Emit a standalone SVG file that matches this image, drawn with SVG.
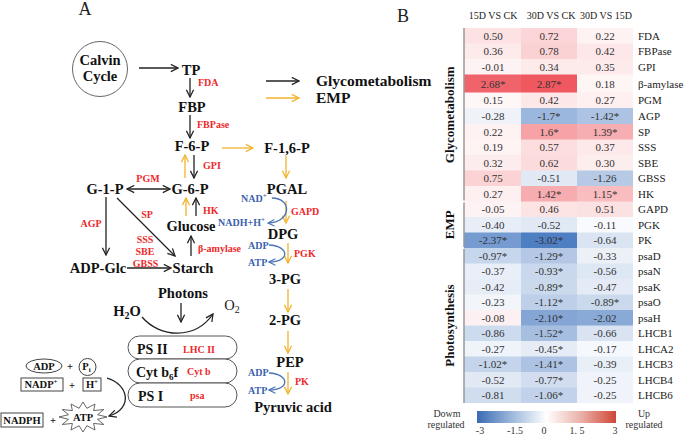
<svg xmlns="http://www.w3.org/2000/svg" width="685" height="439" viewBox="0 0 685 439">
<style>
text{font-family:"Liberation Serif","Times New Roman",serif}
.n{font-weight:bold;font-size:14.5px;text-anchor:middle;fill:#111}
.r{font-weight:bold;font-size:10px;fill:#ee2a2a}
.b{font-weight:bold;font-size:10px;fill:#3c63ad}
.k{fill:none;stroke:#222;stroke-width:1.3}
.o{fill:none;stroke:#f2b32a;stroke-width:1.3}
.bl{fill:none;stroke:#4a72b8;stroke-width:1.3}
.c{font-weight:bold;font-size:10.5px;text-anchor:middle;fill:#111}
.v{font-size:11px;text-anchor:middle;fill:#333}
.l{font-size:11px;fill:#222}
.h{font-size:10px;text-anchor:middle;fill:#222}
.g{font-weight:bold;font-size:13px;text-anchor:middle;fill:#111}
.t{font-size:10px;text-anchor:middle;fill:#333}
</style>
<defs>
<marker id="ak" viewBox="0 0 10 10" refX="9" refY="5" markerWidth="9" markerHeight="9" orient="auto-start-reverse" markerUnits="userSpaceOnUse"><path d="M1,1 L9,5 L1,9" fill="none" stroke="#222" stroke-width="1.4"/></marker>
<marker id="ao" viewBox="0 0 10 10" refX="9" refY="5" markerWidth="9" markerHeight="9" orient="auto" markerUnits="userSpaceOnUse"><path d="M1,1 L9,5 L1,9" fill="none" stroke="#f2b32a" stroke-width="1.4"/></marker>
<marker id="ab" viewBox="0 0 10 10" refX="9" refY="5" markerWidth="8" markerHeight="8" orient="auto" markerUnits="userSpaceOnUse"><path d="M1,1 L9,5 L1,9" fill="none" stroke="#4a72b8" stroke-width="1.4"/></marker>
<linearGradient id="cb" x1="0" x2="1" y1="0" y2="0">
<stop offset="0" stop-color="#3a6bb3"/><stop offset="0.25" stop-color="#9cb8dc"/><stop offset="0.5" stop-color="#ffffff"/><stop offset="0.75" stop-color="#eab0a8"/><stop offset="1" stop-color="#cf4636"/>
</linearGradient>
</defs>
<rect width="685" height="439" fill="#fff"/>

<text x="85" y="15" font-size="18" text-anchor="middle" fill="#222">A</text>
<text x="403" y="22" font-size="18" text-anchor="middle" fill="#222">B</text>

<!-- connectors -->
<g id="connectors">
<path class="k" d="M139 68 L178 68" marker-end="url(#ak)"/>
<path class="k" d="M190 78 L190 97" marker-end="url(#ak)"/>
<path class="k" d="M190 115 L190 138" marker-end="url(#ak)"/>
<path class="k" d="M194 155 L194 178" marker-end="url(#ak)"/>
<path class="o" d="M185 178 L185 155" marker-end="url(#ao)"/>
<path class="k" d="M127 189 L170 189" marker-start="url(#ak)" marker-end="url(#ak)"/>
<path class="o" d="M186 216 L186 198" marker-end="url(#ao)"/>
<path class="k" d="M196 216 L196 198" marker-end="url(#ak)"/>
<path class="k" d="M191 256 L191 236" marker-end="url(#ak)"/>
<path class="k" d="M106 197 L106 255" marker-end="url(#ak)"/>
<path class="k" d="M117 198 L175 256" marker-end="url(#ak)"/>
<path class="k" d="M127 268 L171 268" marker-end="url(#ak)"/>
<path class="k" d="M181 303 L181 322" marker-end="url(#ak)"/>
<path class="k" d="M142 317 C160 338 195 340 213 314" marker-end="url(#ak)"/>
<path class="k" d="M266 81 L299 81" marker-end="url(#ak)"/>
<path class="o" d="M266 98 L299 98" marker-end="url(#ao)"/>
<path class="o" d="M222 148 L253 148" marker-end="url(#ao)"/>
<path class="o" d="M286 156 L286 178" marker-end="url(#ao)"/>
<path class="o" d="M286 201 L286 223" marker-end="url(#ao)"/>
<path class="o" d="M288 243 L288 263" marker-end="url(#ao)"/>
<path class="o" d="M288 289 L288 312" marker-end="url(#ao)"/>
<path class="o" d="M288 331 L288 353" marker-end="url(#ao)"/>
<path class="o" d="M288 372 L288 394" marker-end="url(#ao)"/>
<path class="bl" d="M272 198 C292 198 292 222 268 223" marker-end="url(#ab)"/>
<path class="bl" d="M269 245 C290 246 290 262 269 262" marker-end="url(#ab)"/>
<path class="bl" d="M269 373 C290 374 290 390 269 390" marker-end="url(#ab)"/>
<path class="k" d="M107 378 C128 384 134 408 109 416" marker-end="url(#ak)"/>
</g>

<!-- nodes -->
<g id="calvin"><circle cx="100" cy="69" r="27.5" fill="#fff" stroke="#666" stroke-width="1"/><text class="n" x="100" y="65">Calvin</text><text class="n" x="100" y="81">Cycle</text></g>
<g id="tp"><text class="n" x="191" y="75">TP</text><text class="r" x="198" y="86">FDA</text></g>
<g id="fbp"><text class="n" x="192" y="112">FBP</text><text class="r" x="197" y="128">FBPase</text></g>
<g id="f6p"><text class="n" x="192" y="151">F-6-P</text><text class="r" x="203" y="169">GPI</text></g>
<g id="f16p"><text class="n" x="287" y="153">F-1,6-P</text></g>
<g id="legend"><text x="316" y="86" font-weight="bold" font-size="15.5" fill="#111">Glycometabolism</text><text x="316" y="103" font-weight="bold" font-size="15.5" fill="#111">EMP</text></g>
<g id="g1p"><text class="n" x="105" y="194">G-1-P</text><text class="r" x="148" y="182" text-anchor="middle">PGM</text><text class="r" x="91" y="227" text-anchor="middle">AGP</text><text class="r" x="147" y="218" text-anchor="middle">SP</text></g>
<g id="g6p"><text class="n" x="190" y="194">G-6-P</text><text class="r" x="203" y="214">HK</text></g>
<g id="glucose"><text class="n" x="191" y="231">Glucose</text><text class="r" x="198" y="252" font-size="10.5">β-amylase</text></g>
<g id="adpglc"><text class="n" x="98" y="273">ADP-Glc</text><text class="r" x="145" y="243" text-anchor="middle">SSS</text><text class="r" x="145" y="255" text-anchor="middle">SBE</text><text class="r" x="145.5" y="267" text-anchor="middle">GBSS</text></g>
<g id="starch"><text class="n" x="193" y="273">Starch</text></g>
<g id="pgal"><text class="n" x="287" y="194">PGAL</text><text class="b" x="241" y="202">NAD<tspan font-size="7" dy="-4">+</tspan></text><text class="b" x="218" y="226">NADH+H<tspan font-size="7" dy="-4">+</tspan></text><text class="r" x="291" y="215">GAPD</text></g>
<g id="dpg"><text class="n" x="283" y="239">DPG</text><text class="b" x="248" y="249">ADP</text><text class="b" x="248" y="266">ATP</text><text class="r" x="294" y="257">PGK</text></g>
<g id="pg3"><text class="n" x="285" y="284">3-PG</text></g>
<g id="pg2"><text class="n" x="285" y="325">2-PG</text></g>
<g id="pep"><text class="n" x="290" y="367">PEP</text><text class="b" x="248" y="376">ADP</text><text class="b" x="248" y="394">ATP</text><text class="r" x="295" y="385">PK</text></g>
<g id="pyruvic"><text class="n" x="293" y="412">Pyruvic acid</text></g>
<g id="photons"><text class="n" x="183" y="298">Photons</text><text class="n" x="127" y="316">H<tspan font-size="10" dy="3">2</tspan><tspan dy="-3">O</tspan></text><text x="232" y="310" font-size="14.5" text-anchor="middle" fill="#222">O<tspan font-size="10" dy="3">2</tspan></text></g>
<g id="ps2"><rect x="128" y="336" width="109" height="23" rx="11.5" fill="#fff" stroke="#555"/><text x="137" y="354" font-weight="bold" font-size="14" fill="#111">PS II</text><text class="r" x="183" y="353">LHC II</text></g>
<g id="cytb6f"><rect x="128" y="359" width="109" height="24" rx="12" fill="#fff" stroke="#555"/><text x="136" y="377" font-weight="bold" font-size="14" fill="#111">Cyt b<tspan font-size="9" dy="3">6</tspan><tspan dy="-3">f</tspan></text><text class="r" x="187" y="375">Cyt b</text></g>
<g id="ps1"><rect x="128" y="383" width="109" height="24" rx="12" fill="#fff" stroke="#555"/><text x="138" y="401" font-weight="bold" font-size="14" fill="#111">PS I</text><text class="r" x="190" y="399">psa</text></g>
<g id="cofactors">
<ellipse cx="44" cy="366" rx="18" ry="7" fill="#fff" stroke="#444"/><text class="c" x="44" y="370">ADP</text>
<text class="c" x="70" y="370" font-size="12">+</text>
<circle cx="87.5" cy="367" r="8.5" fill="#fff" stroke="#444"/><text class="c" x="86.5" y="370">P<tspan font-size="7" dy="2">i</tspan></text>
<rect x="21" y="378" width="42" height="13" fill="#fff" stroke="#444"/><text class="c" x="41" y="388">NADP<tspan font-size="7" dy="-4">+</tspan></text>
<text class="c" x="72" y="389" font-size="12">+</text>
<rect x="83" y="378" width="18" height="13" fill="#fff" stroke="#444"/><text class="c" x="92" y="388">H<tspan font-size="7" dy="-4">+</tspan></text>
<rect x="1" y="413" width="42" height="14" fill="#fff" stroke="#444"/><text class="c" x="22" y="424">NADPH</text>
<text class="c" x="53" y="424" font-size="12">+</text>
<polygon points="107,417 97.5,419.3 103.8,424.5 93.6,423.4 95,430 86.9,425.7 83,432 79.1,425.7 71,430 72.4,423.4 62.2,424.5 68.5,419.3 59,417 68.5,414.7 62.2,409.5 72.4,410.6 71,404 79.1,408.3 83,402 86.9,408.3 95,404 93.6,410.6 103.8,409.5 97.5,414.7" fill="#fff" stroke="#555" stroke-width="0.9"/>
<text class="c" x="83" y="421">ATP</text>
</g>

<!-- heatmap -->
<g id="heatmap">
<text class="h" x="493" y="19">15D VS CK</text>
<text class="h" x="551" y="19">30D VS CK</text>
<text class="h" x="606" y="19">30D VS 15D</text>
<g id="r-FDA"><rect x="464" y="28" width="57" height="16" fill="#fce2e3"/><rect x="521" y="28" width="56" height="16" fill="#fbd5d7"/><rect x="577" y="28" width="56" height="16" fill="#fef2f3"/><text class="v" x="493" y="39.8">0.50</text><text class="v" x="549" y="39.8">0.72</text><text class="v" x="605" y="39.8">0.22</text><text class="l" x="638" y="39.8">FDA</text></g>
<g id="r-FBPase"><rect x="464" y="43.5" width="57" height="16" fill="#fdeaeb"/><rect x="521" y="43.5" width="56" height="16" fill="#fbd2d4"/><rect x="577" y="43.5" width="56" height="16" fill="#fde7e8"/><text class="v" x="493" y="55.3">0.36</text><text class="v" x="549" y="55.3">0.78</text><text class="v" x="605" y="55.3">0.42</text><text class="l" x="638" y="55.3">FBPase</text></g>
<g id="r-GPI"><rect x="464" y="59" width="57" height="16" fill="#fdf2f4"/><rect x="521" y="59" width="56" height="16" fill="#fdebec"/><rect x="577" y="59" width="56" height="16" fill="#fdebec"/><text class="v" x="493" y="70.8">-0.01</text><text class="v" x="549" y="70.8">0.34</text><text class="v" x="605" y="70.8">0.35</text><text class="l" x="638" y="70.8">GPI</text></g>
<g id="r-bamy"><rect x="464" y="74.5" width="57" height="18.5" fill="#f0636a"/><rect x="521" y="74.5" width="56" height="18.5" fill="#ef585f"/><rect x="577" y="74.5" width="56" height="18.5" fill="#fef5f5"/><text class="v" x="493" y="87.5">2.68*</text><text class="v" x="549" y="87.5">2.87*</text><text class="v" x="605" y="87.5">0.18</text><text class="l" x="638" y="87.5">β-amylase</text></g>
<g id="r-PGM"><rect x="464" y="92.5" width="57" height="16" fill="#fef6f7"/><rect x="521" y="92.5" width="56" height="16" fill="#fde7e8"/><rect x="577" y="92.5" width="56" height="16" fill="#feeff0"/><text class="v" x="493" y="104.3">0.15</text><text class="v" x="549" y="104.3">0.42</text><text class="v" x="605" y="104.3">0.27</text><text class="l" x="638" y="104.3">PGM</text></g>
<g id="r-AGP"><rect x="464" y="108" width="57" height="16.5" fill="#eff3f9"/><rect x="521" y="108" width="56" height="16.5" fill="#9cb7dd"/><rect x="577" y="108" width="56" height="16.5" fill="#acc3e3"/><text class="v" x="493" y="120">-0.28</text><text class="v" x="549" y="120">-1.7*</text><text class="v" x="605" y="120">-1.42*</text><text class="l" x="638" y="120">AGP</text></g>
<g id="r-SP"><rect x="464" y="124" width="57" height="16" fill="#fef2f3"/><rect x="521" y="124" width="56" height="16" fill="#f6a2a6"/><rect x="577" y="124" width="56" height="16" fill="#f7aeb2"/><text class="v" x="493" y="135.8">0.22</text><text class="v" x="549" y="135.8">1.6*</text><text class="v" x="605" y="135.8">1.39*</text><text class="l" x="638" y="135.8">SP</text></g>
<g id="r-SSS"><rect x="464" y="139.5" width="57" height="16" fill="#fef4f4"/><rect x="521" y="139.5" width="56" height="16" fill="#fcdedf"/><rect x="577" y="139.5" width="56" height="16" fill="#fde9ea"/><text class="v" x="493" y="151.3">0.19</text><text class="v" x="549" y="151.3">0.57</text><text class="v" x="605" y="151.3">0.37</text><text class="l" x="638" y="151.3">SSS</text></g>
<g id="r-SBE"><rect x="464" y="155" width="57" height="16" fill="#fdeced"/><rect x="521" y="155" width="56" height="16" fill="#fcdbdd"/><rect x="577" y="155" width="56" height="16" fill="#fdeeee"/><text class="v" x="493" y="166.8">0.32</text><text class="v" x="549" y="166.8">0.62</text><text class="v" x="605" y="166.8">0.30</text><text class="l" x="638" y="166.8">SBE</text></g>
<g id="r-GBSS"><rect x="464" y="170.5" width="57" height="16" fill="#fbd3d5"/><rect x="521" y="170.5" width="56" height="16" fill="#e1e9f5"/><rect x="577" y="170.5" width="56" height="16" fill="#b6cae6"/><text class="v" x="493" y="182.3">0.75</text><text class="v" x="549" y="182.3">-0.51</text><text class="v" x="605" y="182.3">-1.26</text><text class="l" x="638" y="182.3">GBSS</text></g>
<g id="r-HK"><rect x="464" y="186" width="57" height="16" fill="#feeff0"/><rect x="521" y="186" width="56" height="16" fill="#f7acb0"/><rect x="577" y="186" width="56" height="16" fill="#f9bcbf"/><text class="v" x="493" y="197.8">0.27</text><text class="v" x="549" y="197.8">1.42*</text><text class="v" x="605" y="197.8">1.15*</text><text class="l" x="638" y="197.8">HK</text></g>
<g id="r-GAPD"><rect x="464" y="201.5" width="57" height="16" fill="#fdf3f5"/><rect x="521" y="201.5" width="56" height="16" fill="#fce4e5"/><rect x="577" y="201.5" width="56" height="16" fill="#fce1e3"/><text class="v" x="493" y="213.3">-0.05</text><text class="v" x="549" y="213.3">0.46</text><text class="v" x="605" y="213.3">0.51</text><text class="l" x="638" y="213.3">GAPD</text></g>
<g id="r-PGK"><rect x="464" y="217" width="57" height="16" fill="#e8eef7"/><rect x="521" y="217" width="56" height="16" fill="#e1e9f5"/><rect x="577" y="217" width="56" height="16" fill="#f9fafd"/><text class="v" x="493" y="228.8">-0.40</text><text class="v" x="549" y="228.8">-0.52</text><text class="v" x="605" y="228.8">-0.11</text><text class="l" x="638" y="228.8">PGK</text></g>
<g id="r-PK"><rect x="464" y="232.5" width="57" height="16" fill="#759bd0"/><rect x="521" y="232.5" width="56" height="16" fill="#4f7fc3"/><rect x="577" y="232.5" width="56" height="16" fill="#dae4f2"/><text class="v" x="493" y="244.3">-2.37*</text><text class="v" x="549" y="244.3">-3.02*</text><text class="v" x="605" y="244.3">-0.64</text><text class="l" x="638" y="244.3">PK</text></g>
<g id="r-psaD"><rect x="464" y="248" width="57" height="16" fill="#c6d6ec"/><rect x="521" y="248" width="56" height="16" fill="#b4c8e5"/><rect x="577" y="248" width="56" height="16" fill="#ecf1f8"/><text class="v" x="493" y="259.8">-0.97*</text><text class="v" x="549" y="259.8">-1.29*</text><text class="v" x="605" y="259.8">-0.33</text><text class="l" x="638" y="259.8">psaD</text></g>
<g id="r-psaN"><rect x="464" y="263.5" width="57" height="16" fill="#e9eff8"/><rect x="521" y="263.5" width="56" height="16" fill="#c9d8ec"/><rect x="577" y="263.5" width="56" height="16" fill="#dee7f4"/><text class="v" x="493" y="275.3">-0.37</text><text class="v" x="549" y="275.3">-0.93*</text><text class="v" x="605" y="275.3">-0.56</text><text class="l" x="638" y="275.3">psaN</text></g>
<g id="r-psaK"><rect x="464" y="279" width="57" height="16" fill="#e7edf7"/><rect x="521" y="279" width="56" height="16" fill="#cbd9ed"/><rect x="577" y="279" width="56" height="16" fill="#e4ebf6"/><text class="v" x="493" y="290.8">-0.42</text><text class="v" x="549" y="290.8">-0.89*</text><text class="v" x="605" y="290.8">-0.47</text><text class="l" x="638" y="290.8">psaK</text></g>
<g id="r-psaO"><rect x="464" y="294.5" width="57" height="16" fill="#f2f5fa"/><rect x="521" y="294.5" width="56" height="16" fill="#becfe9"/><rect x="577" y="294.5" width="56" height="16" fill="#cbd9ed"/><text class="v" x="493" y="306.3">-0.23</text><text class="v" x="549" y="306.3">-1.12*</text><text class="v" x="605" y="306.3">-0.89*</text><text class="l" x="638" y="306.3">psaO</text></g>
<g id="r-psaH"><rect x="464" y="310" width="57" height="16" fill="#fdf0f2"/><rect x="521" y="310" width="56" height="16" fill="#85a6d5"/><rect x="577" y="310" width="56" height="16" fill="#89aad7"/><text class="v" x="493" y="321.8">-0.08</text><text class="v" x="549" y="321.8">-2.10*</text><text class="v" x="605" y="321.8">-2.02</text><text class="l" x="638" y="321.8">psaH</text></g>
<g id="r-LHCB1"><rect x="464" y="325.5" width="57" height="16" fill="#cddbee"/><rect x="521" y="325.5" width="56" height="16" fill="#a6bfe1"/><rect x="577" y="325.5" width="56" height="16" fill="#d9e3f2"/><text class="v" x="493" y="337.3">-0.86</text><text class="v" x="549" y="337.3">-1.52*</text><text class="v" x="605" y="337.3">-0.66</text><text class="l" x="638" y="337.3">LHCB1</text></g>
<g id="r-LHCA2"><rect x="464" y="341" width="57" height="16" fill="#eff4fa"/><rect x="521" y="341" width="56" height="16" fill="#e5ecf6"/><rect x="577" y="341" width="56" height="16" fill="#f5f8fc"/><text class="v" x="493" y="352.8">-0.27</text><text class="v" x="549" y="352.8">-0.45*</text><text class="v" x="605" y="352.8">-0.17</text><text class="l" x="638" y="352.8">LHCA2</text></g>
<g id="r-LHCB3"><rect x="464" y="356.5" width="57" height="16" fill="#c3d4eb"/><rect x="521" y="356.5" width="56" height="16" fill="#adc3e3"/><rect x="577" y="356.5" width="56" height="16" fill="#e8eff7"/><text class="v" x="493" y="368.3">-1.02*</text><text class="v" x="549" y="368.3">-1.41*</text><text class="v" x="605" y="368.3">-0.39</text><text class="l" x="638" y="368.3">LHCB3</text></g>
<g id="r-LHCB4"><rect x="464" y="372" width="57" height="16" fill="#e1e9f5"/><rect x="521" y="372" width="56" height="16" fill="#d2def0"/><rect x="577" y="372" width="56" height="16" fill="#f0f4fa"/><text class="v" x="493" y="383.8">-0.52</text><text class="v" x="549" y="383.8">-0.77*</text><text class="v" x="605" y="383.8">-0.25</text><text class="l" x="638" y="383.8">LHCB4</text></g>
<g id="r-LHCB6"><rect x="464" y="387.5" width="57" height="15.5" fill="#d0ddef"/><rect x="521" y="387.5" width="56" height="15.5" fill="#c1d2ea"/><rect x="577" y="387.5" width="56" height="15.5" fill="#f0f4fa"/><text class="v" x="493" y="399.3">-0.81</text><text class="v" x="549" y="399.3">-1.06*</text><text class="v" x="605" y="399.3">-0.25</text><text class="l" x="638" y="399.3">LHCB6</text></g>
<g id="groups" stroke="#999" stroke-width="1.5">
<line x1="464" y1="28" x2="464" y2="200.5"/><line x1="464" y1="202.5" x2="464" y2="247"/><line x1="464" y1="249" x2="464" y2="403"/>
</g>
<text class="g" transform="translate(454,114.75) rotate(-90)">Glycometabolism</text>
<text class="g" transform="translate(454,224.75) rotate(-90)">EMP</text>
<text class="g" transform="translate(454,325.5) rotate(-90)">Photosynthesis</text>
</g>
<g id="colorbar">
<rect x="477" y="411" width="139" height="12" fill="url(#cb)"/>
<text class="t" x="480" y="434">-3</text><text class="t" x="515" y="434">-1.5</text><text class="t" x="544" y="434">0</text><text class="t" x="577" y="434">1. 5</text><text class="t" x="615" y="434">3</text>
<text class="t" x="447" y="417" font-size="10.5">Dowm</text><text class="t" x="446" y="428" font-size="10.5">regulated</text>
<text class="t" x="644" y="417" font-size="10.5">Up</text><text class="t" x="644" y="428" font-size="10.5">regulated</text>
</g>
</svg>
